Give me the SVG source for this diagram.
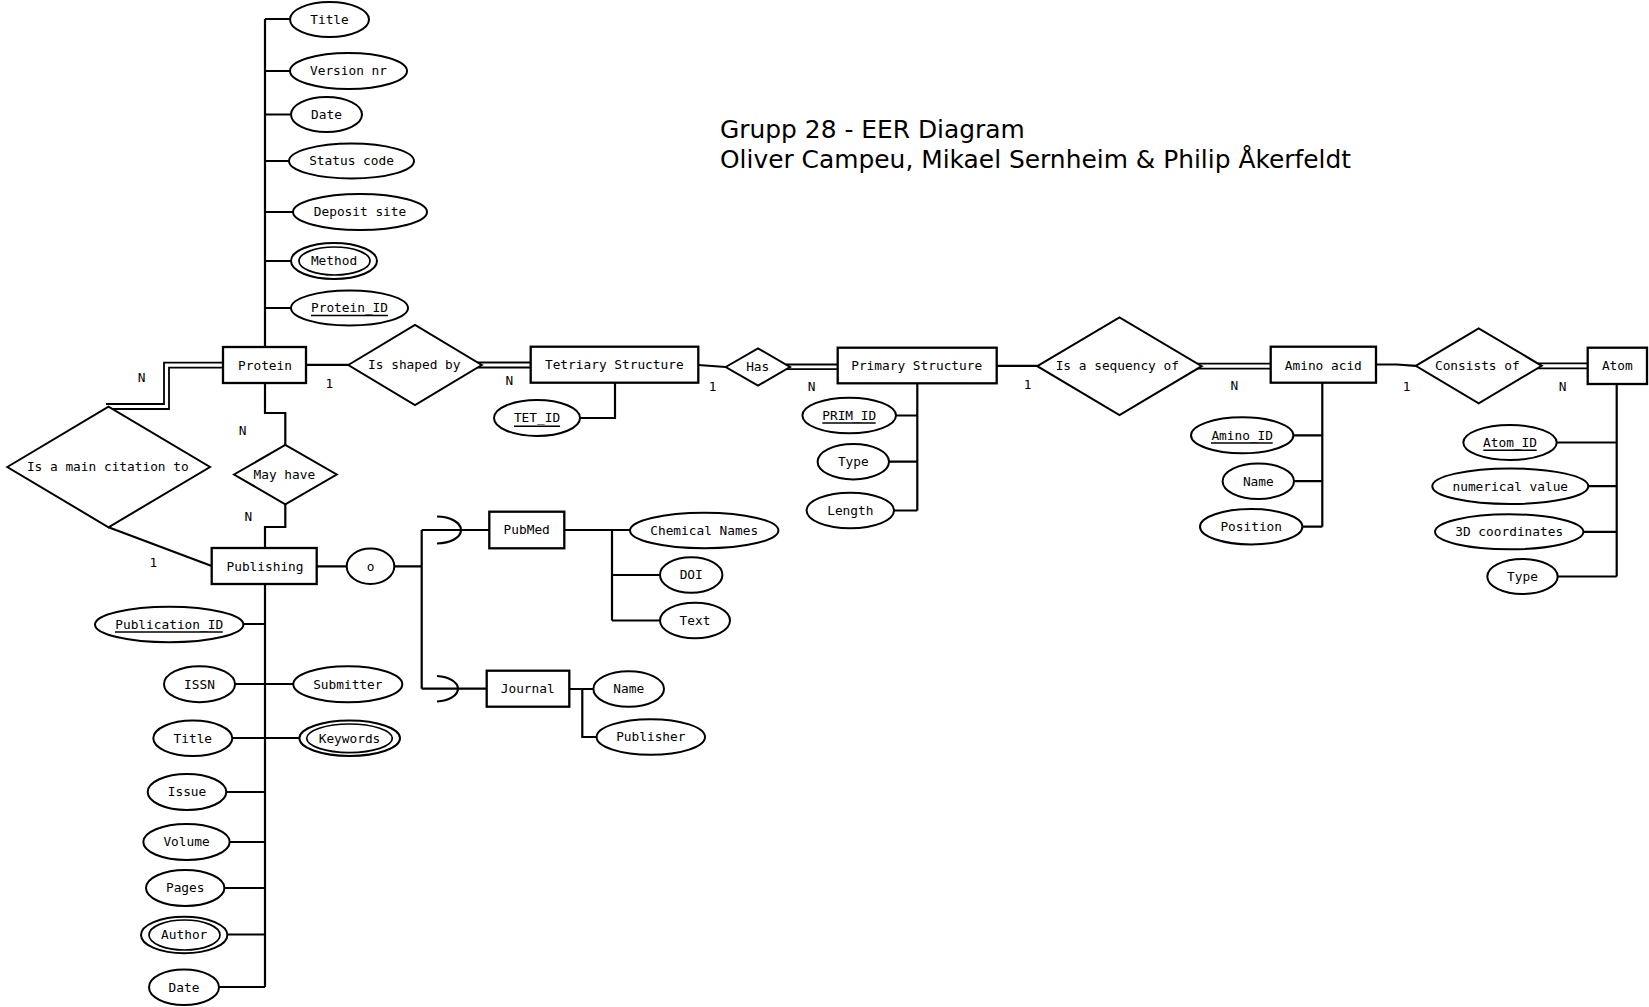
<svg xmlns="http://www.w3.org/2000/svg" width="1649" height="1007" viewBox="0 0 1649 1007">
<style>
.ent{fill:#fff;stroke:#000;stroke-width:2.3}
.rel{fill:#fff;stroke:#000;stroke-width:2;stroke-linejoin:miter}
.attr{fill:#fff;stroke:#000;stroke-width:2}
.in{fill:none;stroke:#000;stroke-width:1.7}
.ln{fill:none;stroke:#000;stroke-width:2.2}
.dl{fill:none;stroke:#000;stroke-width:1.8}
.t{font-family:"DejaVu Sans Mono","Liberation Mono",monospace;font-size:12.8px;fill:#000;text-anchor:middle}
.u{stroke:#000;stroke-width:1.6}
.title{font-family:"DejaVu Sans","Liberation Sans",sans-serif;font-size:24.9px;fill:#000}
</style>
<rect width="1649" height="1007" fill="#fff"/>

<g id="title">
<text class="title" x="720" y="137.5">Grupp 28 - EER Diagram</text>
<text class="title" x="720" y="167.5">Oliver Campeu, Mikael Sernheim &amp; Philip Åkerfeldt</text>
</g>

<g id="connectors">
<path class="ln" d="M265,19 V347 M265,19 H290 M265,71 H290 M265,114.5 H291 M265,161 H289 M265,212 H293 M265,261 H291 M265,308 H291"/>
<path class="ln" d="M265,383 V413 H285.3 V445"/>
<path class="ln" d="M285.3,504.3 V527 H265 V548"/>
<path class="ln" d="M265,584 V987 M243.3,624 H265 M235,684 H293.3 M232.3,738 H299.3 M226.3,792 H265 M229.7,842 H265 M224.3,888 H265 M227.3,934.5 H265 M219,987 H265"/>
<path class="dl" d="M223,362.7 H164 V404 H106"/>
<path class="dl" d="M223,367.7 H169 V409 H112"/>
<path class="ln" d="M108.5,527.3 L211.7,566"/>
<path class="ln" d="M306,364.8 H348.3"/>
<path class="dl" d="M477.5,362.5 H530.7 M477.5,367.5 H530.7"/>
<path class="ln" d="M615,382.7 V418 H580"/>
<path class="ln" d="M698.3,365 L725.7,367"/>
<path class="dl" d="M786,364.5 H837.7 M786,369.2 H837.7"/>
<path class="ln" d="M917.3,383.3 V510.5 M896,415.5 H917.3 M889,461.7 H917.3 M894,510.5 H917.3"/>
<path class="ln" d="M996.7,365.8 H1037.3"/>
<path class="dl" d="M1197.5,363.6 H1270.7 M1197.5,368.6 H1270.7"/>
<path class="ln" d="M1322.3,382.7 V526.7 M1293.3,435.3 H1322.3 M1294,481.2 H1322.3 M1302.3,526.7 H1322.3"/>
<path class="ln" d="M1376,364.5 H1396.7 L1415.7,365.8"/>
<path class="dl" d="M1537.5,363.4 H1587.7 M1537.5,368.3 H1587.7"/>
<path class="ln" d="M1616.7,384 V576.5 M1556.7,442.5 H1616.7 M1588.3,486.2 H1616.7 M1583.3,531.8 H1616.7 M1557.7,576.5 H1616.7"/>
<path class="ln" d="M316.7,566.3 H346.7 M394.3,566.3 H421.7 M421.7,530 V688.7 M421.7,530 H489.3 M421.7,688.7 H486.7"/>
<path class="ln" d="M437,516.5 A24,13.5 0 0 1 437,543.5"/>
<path class="ln" d="M437,676 A23,12.8 0 0 1 437,701.5"/>
<path class="ln" d="M564.3,530 H630 M612,530 V620.5 M612,575 H660 M612,620.5 H660"/>
<path class="ln" d="M569.3,689 H593.3 M582.3,689 V737 H596.7"/>
<g class="t">
<text x="141.7" y="382.2">N</text>
<text x="329.3" y="387.8">1</text>
<text x="242.7" y="434.5">N</text>
<text x="248.3" y="521.2">N</text>
<text x="153.3" y="566.8">1</text>
<text x="509.3" y="385.2">N</text>
<text x="712.7" y="391.2">1</text>
<text x="811.7" y="390.5">N</text>
<text x="1027.7" y="388.5">1</text>
<text x="1234.3" y="389.5">N</text>
<text x="1406.7" y="391.2">1</text>
<text x="1562.7" y="391.2">N</text>
</g>
</g>

<g id="protein"><rect class="ent" x="223" y="347" width="83" height="36"/><text class="t" x="265" y="369.5">Protein</text></g>
<g id="publishing"><rect class="ent" x="211.7" y="548" width="105" height="36"/><text class="t" x="265" y="570.5">Publishing</text></g>
<g id="tetriary-structure"><rect class="ent" x="530.7" y="346.7" width="167.6" height="36"/><text class="t" x="614.3" y="369.2">Tetriary Structure</text></g>
<g id="primary-structure"><rect class="ent" x="837.7" y="347.7" width="159" height="35.6"/><text class="t" x="916.7" y="370.2">Primary Structure</text></g>
<g id="amino-acid"><rect class="ent" x="1270.7" y="346.7" width="105.3" height="36"/><text class="t" x="1323.3" y="369.5">Amino acid</text></g>
<g id="atom"><rect class="ent" x="1587.7" y="347.7" width="59.3" height="36.3"/><text class="t" x="1617.3" y="370.2">Atom</text></g>
<g id="pubmed"><rect class="ent" x="489.3" y="511.7" width="75" height="36.6"/><text class="t" x="526.7" y="534.2">PubMed</text></g>
<g id="journal"><rect class="ent" x="486.7" y="670.7" width="82.6" height="36"/><text class="t" x="527.7" y="693.2">Journal</text></g>

<g id="is-shaped-by"><polygon class="rel" points="348.3,365 415,325 481.7,365 415,405"/><text class="t" x="414.3" y="369.2">Is shaped by</text></g>
<g id="has"><polygon class="rel" points="725.7,367 758,348.3 790,367 758,385.7"/><text class="t" x="757.7" y="371.2">Has</text></g>
<g id="is-a-sequency-of"><polygon class="rel" points="1037.3,366.2 1119.5,317.3 1201.7,366.2 1119.5,415"/><text class="t" x="1117.3" y="370.2">Is a sequency of</text></g>
<g id="consists-of"><polygon class="rel" points="1415.7,365.8 1478.7,328.3 1541.7,365.8 1478.7,403.3"/><text class="t" x="1477.3" y="370.2">Consists of</text></g>
<g id="is-a-main-citation-to"><polygon class="rel" points="7.3,467 108.5,406.7 210,467 108.5,527.3"/><text class="t" x="107.8" y="471.2">Is a main citation to</text></g>
<g id="may-have"><polygon class="rel" points="234,474.5 285.3,445 336.7,474.5 285.3,504.3"/><text class="t" x="284.3" y="478.5">May have</text></g>

<g id="overlap"><ellipse class="attr" cx="370.5" cy="566.3" rx="23.8" ry="17.7"/><text class="t" x="370.5" y="570.5">o</text></g>

<g id="p-title"><ellipse class="attr" cx="329.5" cy="19.5" rx="39.5" ry="17.5"/><text class="t" x="329.5" y="23.8">Title</text></g>
<g id="p-version"><ellipse class="attr" cx="348.5" cy="71" rx="58.5" ry="18"/><text class="t" x="348.5" y="75.3">Version nr</text></g>
<g id="p-date"><ellipse class="attr" cx="326.5" cy="114.5" rx="35.5" ry="17.5"/><text class="t" x="326.5" y="118.8">Date</text></g>
<g id="p-status"><ellipse class="attr" cx="351.5" cy="161" rx="62.5" ry="17.5"/><text class="t" x="351.5" y="165.3">Status code</text></g>
<g id="p-deposit"><ellipse class="attr" cx="360" cy="212" rx="67" ry="18"/><text class="t" x="360" y="216.3">Deposit site</text></g>
<g id="p-method"><ellipse class="attr" cx="334" cy="261" rx="43" ry="18"/><ellipse class="in" cx="334.5" cy="261" rx="35.5" ry="14"/><text class="t" x="334" y="265.3">Method</text></g>
<g id="p-protein-id"><ellipse class="attr" cx="349.5" cy="308" rx="58.5" ry="17.5"/><text class="t" x="349.5" y="312.3">Protein_ID</text><line class="u" x1="311" y1="315.5" x2="388" y2="315.5"/></g>

<g id="tet-id"><ellipse class="attr" cx="537" cy="418" rx="43" ry="18"/><text class="t" x="537" y="422.3">TET_ID</text><line class="u" x1="514" y1="426.3" x2="560" y2="426.3"/></g>

<g id="prim-id"><ellipse class="attr" cx="849.2" cy="415.5" rx="46.8" ry="17.8"/><text class="t" x="849.2" y="419.8">PRIM_ID</text><line class="u" x1="822.3" y1="423" x2="875.7" y2="423"/></g>
<g id="prim-type"><ellipse class="attr" cx="853.3" cy="461.7" rx="35.7" ry="17.7"/><text class="t" x="853.3" y="466">Type</text></g>
<g id="prim-length"><ellipse class="attr" cx="850.3" cy="510.5" rx="43.7" ry="17.8"/><text class="t" x="850.3" y="514.8">Length</text></g>

<g id="amino-id"><ellipse class="attr" cx="1242.2" cy="435.3" rx="51.2" ry="18"/><text class="t" x="1242.2" y="439.6">Amino_ID</text><line class="u" x1="1211" y1="443" x2="1272.7" y2="443"/></g>
<g id="amino-name"><ellipse class="attr" cx="1258.3" cy="481.2" rx="35.7" ry="17.8"/><text class="t" x="1258.3" y="485.5">Name</text></g>
<g id="amino-position"><ellipse class="attr" cx="1251.2" cy="526.7" rx="51.2" ry="17.7"/><text class="t" x="1251.2" y="531">Position</text></g>

<g id="atom-id"><ellipse class="attr" cx="1510" cy="442.5" rx="46.7" ry="17.5"/><text class="t" x="1510" y="446.8">Atom_ID</text><line class="u" x1="1483.3" y1="450.2" x2="1536.7" y2="450.2"/></g>
<g id="atom-numerical"><ellipse class="attr" cx="1510.3" cy="486.2" rx="78" ry="17.8"/><text class="t" x="1510.3" y="490.5">numerical value</text></g>
<g id="atom-3d"><ellipse class="attr" cx="1509.2" cy="531.8" rx="74.2" ry="17.5"/><text class="t" x="1509.2" y="536.1">3D coordinates</text></g>
<g id="atom-type"><ellipse class="attr" cx="1522.5" cy="576.5" rx="35.2" ry="17.5"/><text class="t" x="1522.5" y="580.8">Type</text></g>

<g id="chemical-names"><ellipse class="attr" cx="704.2" cy="530.5" rx="74.2" ry="17.8"/><text class="t" x="704.2" y="534.8">Chemical Names</text></g>
<g id="doi"><ellipse class="attr" cx="691.2" cy="575" rx="31.2" ry="17.7"/><text class="t" x="691.2" y="579.3">DOI</text></g>
<g id="text"><ellipse class="attr" cx="695" cy="620.5" rx="35" ry="17.8"/><text class="t" x="695" y="624.8">Text</text></g>

<g id="journal-name"><ellipse class="attr" cx="628.7" cy="689" rx="35.3" ry="17.8"/><text class="t" x="628.7" y="693.3">Name</text></g>
<g id="publisher"><ellipse class="attr" cx="650.8" cy="737" rx="54.2" ry="17.8"/><text class="t" x="650.8" y="741.3">Publisher</text></g>

<g id="publication-id"><ellipse class="attr" cx="169.2" cy="624.5" rx="74.2" ry="17.8"/><text class="t" x="169.2" y="628.8">Publication_ID</text><line class="u" x1="115" y1="632" x2="222.7" y2="632"/></g>
<g id="issn"><ellipse class="attr" cx="199.5" cy="684.2" rx="35.5" ry="18"/><text class="t" x="199.5" y="688.5">ISSN</text></g>
<g id="submitter"><ellipse class="attr" cx="347.8" cy="684.2" rx="54.5" ry="18"/><text class="t" x="347.8" y="688.5">Submitter</text></g>
<g id="pub-title"><ellipse class="attr" cx="192.8" cy="738.3" rx="39.5" ry="17.7"/><text class="t" x="192.8" y="742.6">Title</text></g>
<g id="keywords"><ellipse class="attr" cx="349.7" cy="738.3" rx="50.3" ry="17.7"/><ellipse class="in" cx="349.5" cy="738.3" rx="42.8" ry="14.3"/><text class="t" x="349.5" y="742.6">Keywords</text></g>
<g id="issue"><ellipse class="attr" cx="187" cy="792" rx="39.3" ry="18"/><text class="t" x="187" y="796.3">Issue</text></g>
<g id="volume"><ellipse class="attr" cx="186.5" cy="842" rx="43.2" ry="18"/><text class="t" x="186.5" y="846.3">Volume</text></g>
<g id="pages"><ellipse class="attr" cx="185.2" cy="888" rx="39.2" ry="18"/><text class="t" x="185.2" y="892.3">Pages</text></g>
<g id="author"><ellipse class="attr" cx="184.2" cy="935" rx="43.2" ry="18.3"/><ellipse class="in" cx="184.5" cy="935" rx="35.5" ry="15"/><text class="t" x="184.2" y="939.3">Author</text></g>
<g id="pub-date"><ellipse class="attr" cx="184" cy="987.2" rx="35" ry="17.8"/><text class="t" x="184" y="991.5">Date</text></g>
</svg>
